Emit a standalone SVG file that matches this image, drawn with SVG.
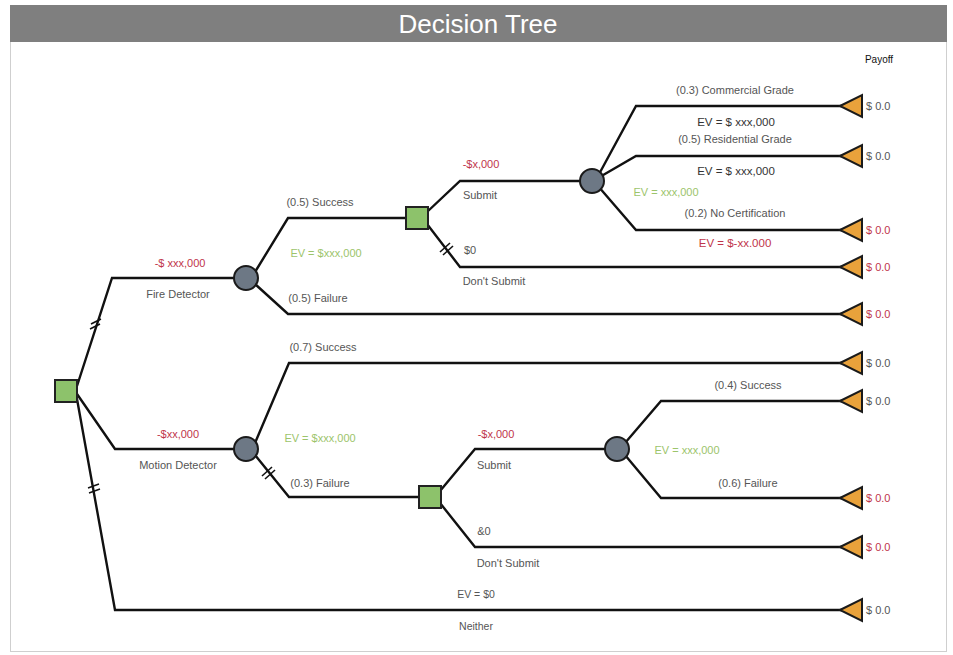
<svg xmlns="http://www.w3.org/2000/svg" width="953" height="655" viewBox="0 0 953 655">
  <defs>
    <style>
      text { font-family: "Liberation Sans", Arial, sans-serif; font-size: 11px; }
      .lbl { fill: #555; text-anchor: middle; }
      .neg { fill: #c0354a; text-anchor: middle; }
      .ev { fill: #9cc46b; text-anchor: middle; }
      .evd { fill: #333; text-anchor: middle; font-size: 11.5px; }
      .pay { fill: #555; font-size: 11px; }
      .payneg { fill: #c0354a; font-size: 11px; }
      .branch { fill: none; stroke: #111; stroke-width: 2.4; stroke-linejoin: miter; }
      .hash { stroke: #111; stroke-width: 1.6; }
      .decision { fill: #8dc26b; stroke: #222; stroke-width: 2; }
      .chance { fill: #6d7885; stroke: #1a1a1a; stroke-width: 2; }
      .terminal { fill: #e9a23b; stroke: #1a1a1a; stroke-width: 2; stroke-linejoin: miter; }
    </style>
    <polygon id="tri" points="0,0 22,-11 22,11" class="terminal"/>
  </defs>

  <!-- frame and title bar -->
  <rect x="0" y="0" width="953" height="655" fill="#ffffff"/>
  <rect x="10.5" y="5.5" width="936" height="646" fill="#ffffff" stroke="#cfcfcf" stroke-width="1"/>
  <rect x="10" y="5" width="937" height="37" fill="#7f7f7f"/>
  <text x="478" y="33" style="font-size:26px;fill:#ffffff;text-anchor:middle">Decision Tree</text>
  <text x="879" y="63" style="font-size:10px;fill:#111;text-anchor:middle">Payoff</text>

  <!-- connectors -->
  <g id="connectors">
    <!-- root decision -->
    <polyline class="branch" points="77,386 112,278 246,278"/>
    <polyline class="branch" points="77,394 115,449 246,449"/>
    <polyline class="branch" points="77,399 115,610 842,610"/>
    <!-- fire detector chance -->
    <polyline class="branch" points="255,272 288,218 417,218"/>
    <polyline class="branch" points="255,284 288,314 842,314"/>
    <!-- fire detector submit decision -->
    <polyline class="branch" points="427,212 460,181 592,181"/>
    <polyline class="branch" points="427,224 460,267 842,267"/>
    <!-- certification chance -->
    <polyline class="branch" points="598,176 636,106 842,106"/>
    <polyline class="branch" points="598,178 636,156 842,156"/>
    <polyline class="branch" points="598,186 636,230 842,230"/>
    <!-- motion detector chance -->
    <polyline class="branch" points="255,443 289,363 842,363"/>
    <polyline class="branch" points="255,455 289,497 430,497"/>
    <!-- motion detector submit decision -->
    <polyline class="branch" points="440,491 475,449 617,449"/>
    <polyline class="branch" points="440,503 475,547 842,547"/>
    <!-- motion certification chance -->
    <polyline class="branch" points="625,443 661,401 842,401"/>
    <polyline class="branch" points="625,455 661,498 842,498"/>
    <!-- pruned-branch hash marks -->
    <g class="hash">
      <line x1="91" y1="324" x2="101" y2="319"/>
      <line x1="90" y1="329" x2="100" y2="324"/>
      <line x1="88" y1="488" x2="99" y2="484"/>
      <line x1="89" y1="493" x2="100" y2="489"/>
      <line x1="440" y1="252" x2="450" y2="243"/>
      <line x1="443" y1="255" x2="453" y2="246"/>
      <line x1="262" y1="476" x2="272" y2="467"/>
      <line x1="265" y1="479" x2="275" y2="470"/>
    </g>
  </g>

  <!-- decision nodes -->
  <g id="root"><rect class="decision" x="55" y="380" width="22" height="22"/></g>
  <g id="fire-submit"><rect class="decision" x="406" y="207" width="22" height="22"/></g>
  <g id="motion-submit"><rect class="decision" x="419" y="486" width="22" height="22"/></g>

  <!-- chance nodes -->
  <g id="fire-chance"><circle class="chance" cx="246" cy="278" r="12"/></g>
  <g id="fire-cert-chance"><circle class="chance" cx="592" cy="181" r="12"/></g>
  <g id="motion-chance"><circle class="chance" cx="246" cy="449" r="12"/></g>
  <g id="motion-cert-chance"><circle class="chance" cx="617" cy="449" r="12"/></g>

  <!-- terminal nodes -->
  <g id="t1"><use href="#tri" x="840" y="106"/><text class="pay" x="866" y="110">$ 0.0</text></g>
  <g id="t2"><use href="#tri" x="840" y="156"/><text class="pay" x="866" y="160">$ 0.0</text></g>
  <g id="t3"><use href="#tri" x="840" y="230"/><text class="payneg" x="866" y="234">$ 0.0</text></g>
  <g id="t4"><use href="#tri" x="840" y="267"/><text class="payneg" x="866" y="271">$ 0.0</text></g>
  <g id="t5"><use href="#tri" x="840" y="314"/><text class="payneg" x="866" y="318">$ 0.0</text></g>
  <g id="t6"><use href="#tri" x="840" y="363"/><text class="pay" x="866" y="367">$ 0.0</text></g>
  <g id="t7"><use href="#tri" x="840" y="401"/><text class="pay" x="866" y="405">$ 0.0</text></g>
  <g id="t8"><use href="#tri" x="840" y="498"/><text class="payneg" x="866" y="502">$ 0.0</text></g>
  <g id="t9"><use href="#tri" x="840" y="547"/><text class="payneg" x="866" y="551">$ 0.0</text></g>
  <g id="t10"><use href="#tri" x="840" y="610"/><text class="pay" x="866" y="614">$ 0.0</text></g>

  <!-- branch labels -->
  <g id="labels">
    <text class="neg" x="180" y="267">-$ xxx,000</text>
    <text class="lbl" x="178" y="298">Fire Detector</text>
    <text class="lbl" x="320" y="206">(0.5) Success</text>
    <text class="ev" x="326" y="257">EV = $xxx,000</text>
    <text class="lbl" x="318" y="302">(0.5) Failure</text>
    <text class="neg" x="481" y="168">-$x,000</text>
    <text class="lbl" x="480" y="199">Submit</text>
    <text class="lbl" x="470" y="254">$0</text>
    <text class="lbl" x="494" y="285">Don't Submit</text>
    <text class="lbl" x="735" y="94">(0.3) Commercial Grade</text>
    <text class="evd" x="736" y="126">EV = $ xxx,000</text>
    <text class="lbl" x="735" y="143">(0.5) Residential Grade</text>
    <text class="evd" x="736" y="175">EV = $ xxx,000</text>
    <text class="ev" x="666" y="196">EV = xxx,000</text>
    <text class="lbl" x="735" y="217">(0.2) No Certification</text>
    <text class="neg" x="735" y="247" style="font-size:11.5px">EV = $-xx.000</text>

    <text class="neg" x="178" y="438">-$xx,000</text>
    <text class="lbl" x="178" y="469">Motion Detector</text>
    <text class="lbl" x="323" y="351">(0.7) Success</text>
    <text class="ev" x="320" y="442">EV = $xxx,000</text>
    <text class="lbl" x="320" y="487">(0.3) Failure</text>
    <text class="neg" x="496" y="438">-$x,000</text>
    <text class="lbl" x="494" y="469">Submit</text>
    <text class="lbl" x="484" y="535">&amp;0</text>
    <text class="lbl" x="508" y="567">Don't Submit</text>
    <text class="lbl" x="748" y="389">(0.4) Success</text>
    <text class="ev" x="687" y="454">EV = xxx,000</text>
    <text class="lbl" x="748" y="487">(0.6) Failure</text>

    <text class="lbl" x="476" y="598" style="font-size:10.5px">EV = $0</text>
    <text class="lbl" x="476" y="630" style="font-size:10.5px">Neither</text>
  </g>
</svg>
